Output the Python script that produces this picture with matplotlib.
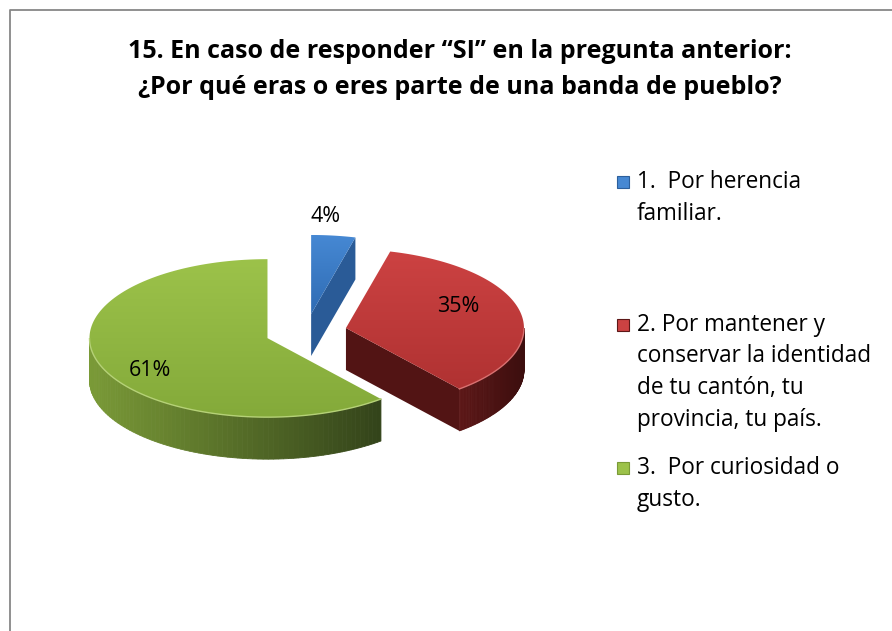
import numpy as np
import matplotlib.pyplot as plt
from matplotlib.patches import Polygon, Rectangle
from matplotlib.lines import Line2D
from matplotlib.colors import to_rgb

# Data
title_lines = ['15. En caso de responder \u201cSI\u201d en la pregunta anterior:',
               '\u00bfPor qu\u00e9 eras o eres parte de una banda de pueblo?']
categories = ['1.  Por herencia\nfamiliar.',
              '2. Por mantener y\nconservar la identidad\nde tu cant\u00f3n, tu\nprovincia, tu pa\u00eds.',
              '3.  Por curiosidad o\ngusto.']
percentages = [4, 35, 61]
pct_labels = ['4%', '35%', '61%']

# Styling (top face gradient, side light/dark)
top_hi = ['#4688d3', '#cc4242', '#9cc24a']
top_lo = ['#2f6cb4', '#b03232', '#84aa3a']
side_lo = ['#2c5f9c', '#5c1717', '#7a9a37']
side_hi = ['#24508a', '#3c0e0e', '#33431a']

# pie layout in pixel coordinates
CX, CY = 306, 332
RX, RY = 178, 79
DEPTH = 42
EXPLODE = 0.23

plt.rcParams['font.family'] = ['Open Sans', 'DejaVu Sans']

fig = plt.figure(figsize=(8.92, 6.31), dpi=100)
ax = fig.add_axes([0, 0, 1, 1])
ax.set_xlim(0, 892)
ax.set_ylim(631, 0)
ax.axis('off')


def pt(cx, cy, th, dz=0.0):
    return cx + RX * np.sin(th), cy - RY * np.cos(th) + dz


def lerp(c1, c2, t):
    a, b = np.array(to_rgb(c1)), np.array(to_rgb(c2))
    return tuple(a + (b - a) * t)


fracs = np.array(percentages, dtype=float) / sum(percentages)
bounds = np.concatenate([[0], np.cumsum(fracs)]) * 2 * np.pi

for i in range(len(percentages)):
    ts, te = bounds[i], bounds[i + 1]
    mid = (ts + te) / 2
    cx = CX + EXPLODE * RX * np.sin(mid)
    cy = CY - EXPLODE * RY * np.cos(mid)

    # visible radial faces
    faces = []
    if np.sin(te) > 0:
        faces.append(te)
    if np.sin(ts) < 0:
        faces.append(ts)
    for th in faces:
        ox, oy = pt(cx, cy, th)
        poly = [(cx, cy), (ox, oy), (ox, oy + DEPTH), (cx, cy + DEPTH)]
        ax.add_patch(Polygon(poly, closed=True, facecolor=lerp(side_lo[i], side_hi[i], 0.3),
                             edgecolor='none', zorder=2))

    # outer wall with horizontal shading
    a0, a1 = max(ts, np.pi / 2), min(te, 3 * np.pi / 2)
    if a1 > a0:
        th = np.linspace(a0, a1, 80)
        xs, ys = pt(cx, cy, th)
        xmin, xmax = xs.min(), xs.max()
        for k in range(len(th) - 1):
            t = (0.5 * (xs[k] + xs[k + 1]) - xmin) / max(xmax - xmin, 1)
            quad = [(xs[k], ys[k]), (xs[k + 1], ys[k + 1]),
                    (xs[k + 1], ys[k + 1] + DEPTH), (xs[k], ys[k] + DEPTH)]
            ax.add_patch(Polygon(quad, closed=True, facecolor=lerp(side_lo[i], side_hi[i], t),
                                 edgecolor=lerp(side_lo[i], side_hi[i], t), lw=0.6, zorder=3))

    # top face with vertical gradient
    th = np.linspace(ts, te, 120)
    xs, ys = pt(cx, cy, th)
    verts = [(cx, cy)] + list(zip(xs, ys))
    top = Polygon(verts, closed=True, facecolor='none', edgecolor='none', zorder=4)
    ax.add_patch(top)
    vx = [v[0] for v in verts]
    vy = [v[1] for v in verts]
    grad = np.array([[lerp(top_hi[i], top_lo[i], t)] for t in np.linspace(0, 1, 64)])
    im = ax.imshow(grad, extent=(min(vx), max(vx), max(vy), min(vy)), aspect='auto',
                   interpolation='bilinear', zorder=4)
    im.set_clip_path(top)
    # thin light rim on the front edge
    fr = (th > np.pi / 2) & (th < 3 * np.pi / 2)
    if fr.any():
        ax.plot(xs[fr], ys[fr], color=lerp(top_hi[i], '#ffffff', 0.25), lw=1.0, zorder=5)

# percentage labels
ax.text(326, 216, pct_labels[0], fontsize=15.5, ha='center', va='center', zorder=6)
ax.text(458, 307, pct_labels[1], fontsize=15.5, ha='center', va='center', zorder=6)
ax.text(150, 370, pct_labels[2], fontsize=15.5, ha='center', va='center', zorder=6)

# title
for k, line in enumerate(title_lines):
    ax.text(460, 51 + k * 37, line, fontsize=18, fontweight='bold',
            ha='center', va='center')

# legend
for i, lab in enumerate(categories):
    y0 = 182 + i * 143
    ax.add_patch(Rectangle((617, y0 - 6), 12, 12, facecolor=top_hi[i],
                           edgecolor=side_lo[i], lw=0.8))
    for k, line in enumerate(lab.split('\n')):
        ax.text(637, y0 + k * 31.5, line, fontsize=16.3, ha='left', va='center')

# chart border
ax.add_line(Line2D([9.5, 9.5, 892], [631, 10, 10], color='#878787', lw=1.3))

fig.savefig('out.png', dpi=100)
